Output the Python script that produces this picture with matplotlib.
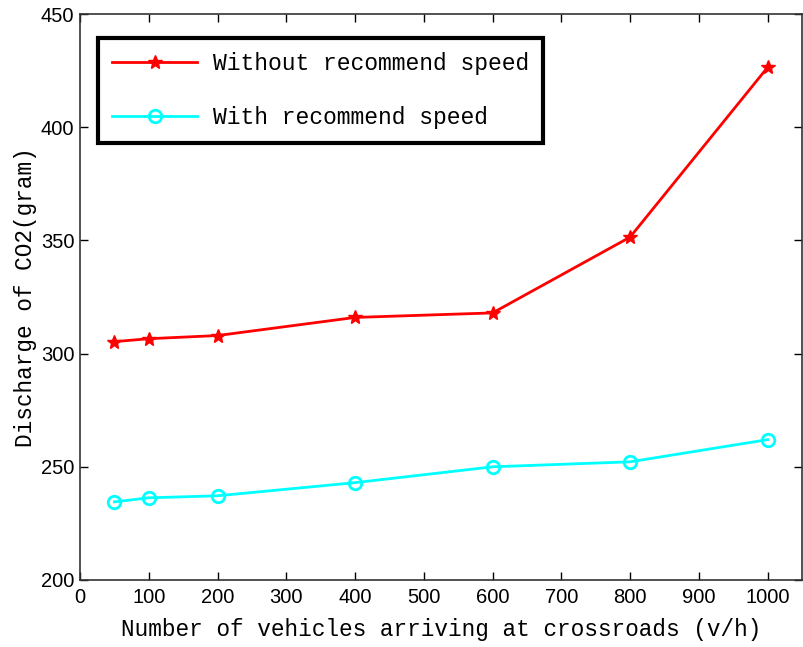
import matplotlib
matplotlib.use("Agg")
import matplotlib.pyplot as plt

# Values
vehicles = [50, 100, 200, 400, 600, 800, 1000]
co2_without = [305.3, 306.6, 308.0, 316.0, 318.0, 351.5, 426.5]
co2_with = [234.5, 236.3, 237.2, 243.0, 250.0, 252.2, 262.0]

mono = "Liberation Mono"

fig = plt.figure(figsize=(8.04, 6.47), dpi=100)
ax = fig.add_axes([0.0995, 0.1036, 0.898, 0.8745])

ax.plot(vehicles, co2_without, color="red", lw=2, marker="*", ms=10,
        label="Without recommend speed")
ax.plot(vehicles, co2_with, color="cyan", lw=2, marker="o", ms=9,
        mfc="none", mew=2, label="With recommend speed")

ax.set_xlim(0, 1050)
ax.set_ylim(200, 450)
ax.set_xticks(range(0, 1001, 100))
ax.set_yticks(range(200, 451, 50))
ax.tick_params(direction="in", top=True, right=True, labelsize=14.5,
               length=6, width=1, pad=4)
ax.tick_params(axis="x", pad=6)
for lab in ax.get_xticklabels() + ax.get_yticklabels():
    lab.set_family("Liberation Sans")
for sp in ax.spines.values():
    sp.set_color("#333333")
    sp.set_linewidth(1.2)

ax.set_xlabel("Number of vehicles arriving at crossroads (v/h)",
              family=mono, fontsize=16.4, labelpad=8)
ax.set_ylabel("Discharge of CO2(gram)", family=mono, fontsize=16.4, labelpad=3)

leg = ax.legend(loc="upper left", bbox_to_anchor=(0.025, 0.958),
                borderaxespad=0,
                prop={"family": mono, "size": 16.6}, fancybox=False,
                framealpha=1, edgecolor="black", borderpad=0.6,
                labelspacing=1.35, handlelength=3.7, handletextpad=0.7)
leg.get_frame().set_linewidth(3)

fig.savefig("out.png", dpi=100)
